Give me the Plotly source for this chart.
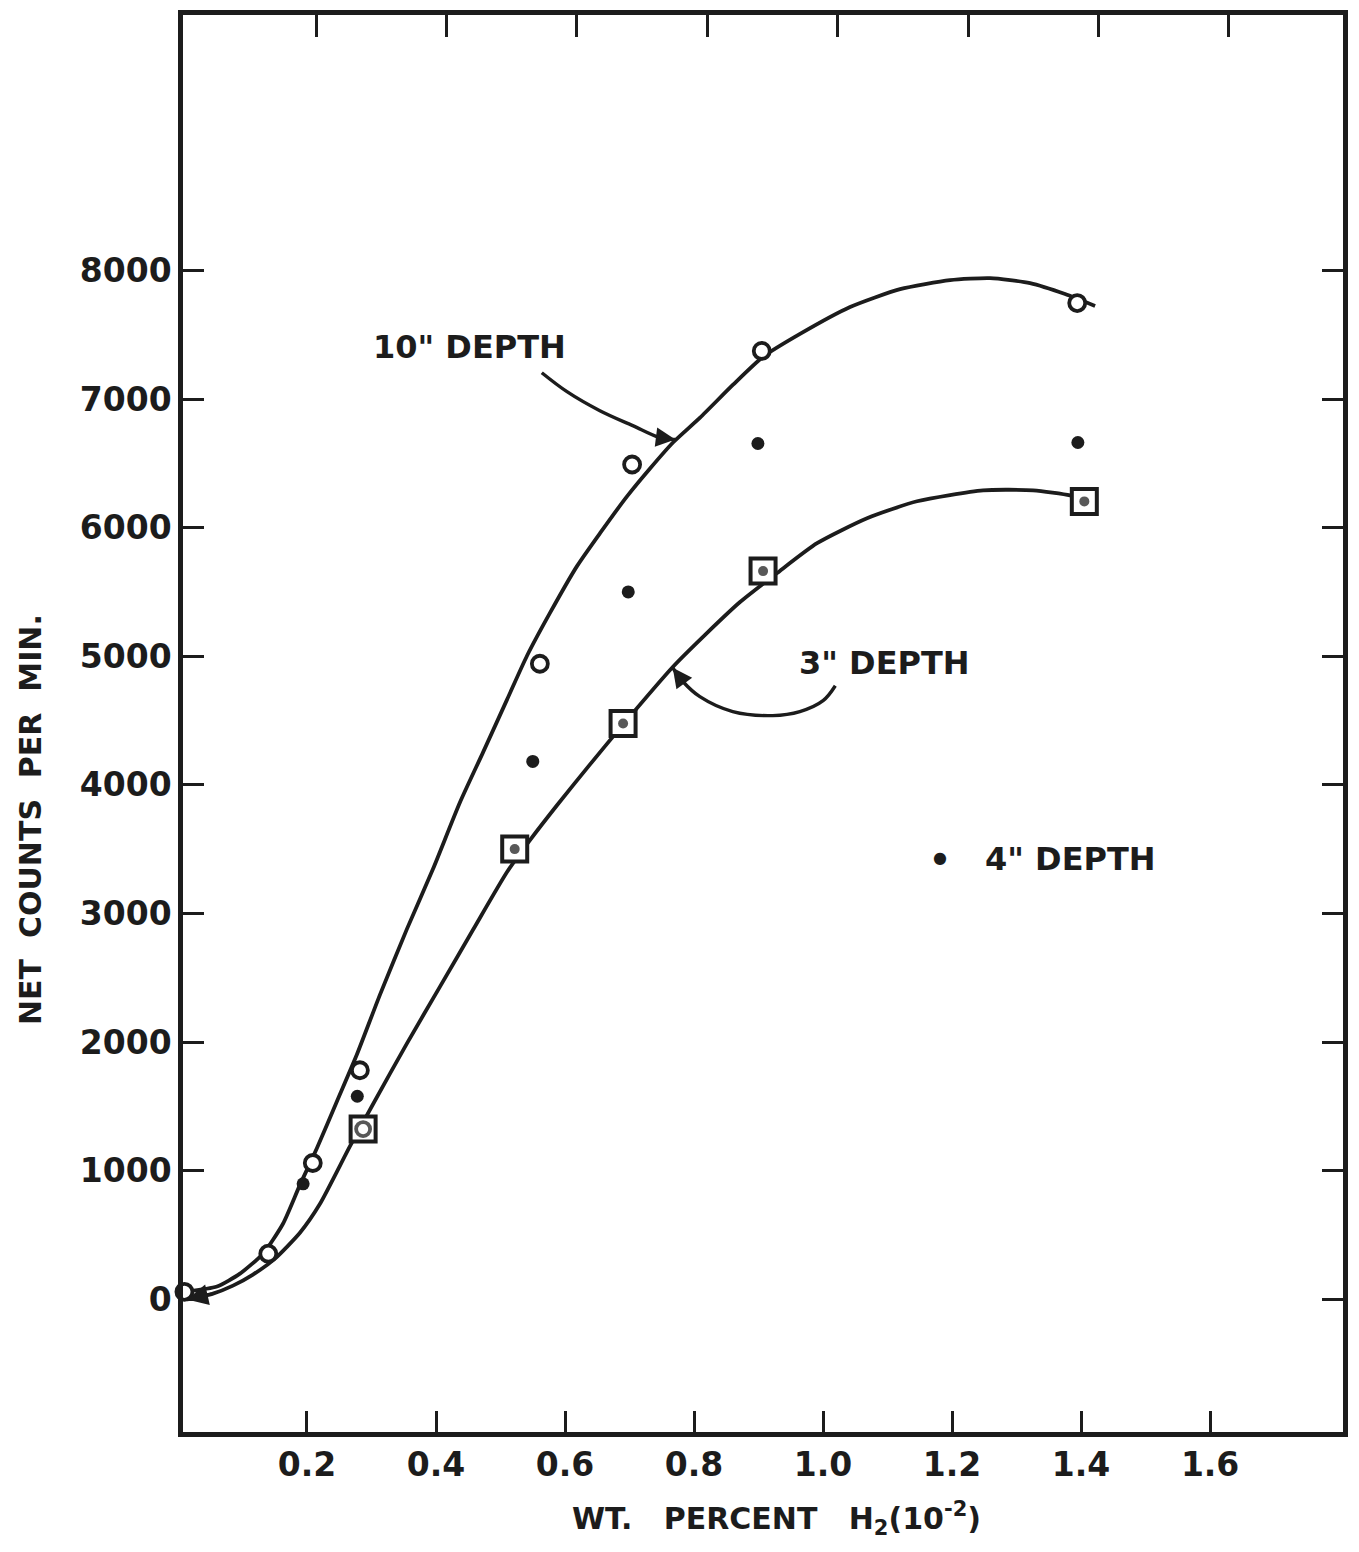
import plotly.graph_objects as go

# ---------------- data ----------------
# 10" depth: open circles
D10_X = [0.01, 0.140, 0.209, 0.282, 0.561, 0.704, 0.905, 1.394]
D10_Y = [60, 356, 1061, 1782, 4942, 6491, 7374, 7746]

# 4" depth: filled dots
D4_X = [0.194, 0.278, 0.550, 0.698, 0.899, 1.395]
D4_Y = [899, 1580, 4183, 5500, 6654, 6662]

# 3" depth: squares (with inner mark)
D3_X = [0.287, 0.522, 0.690, 0.907, 1.405]
D3_Y = [1325, 3501, 4477, 5662, 6204]
D3_INNER = ["circle-open", "circle", "circle", "circle", "circle"]

# hand-drawn fitted curves
C10_X = [0.0124, 0.0605, 0.0961, 0.1318, 0.1628, 0.1891, 0.2155, 0.2465, 0.2775,
         0.3132, 0.3550, 0.3953, 0.4372, 0.4729, 0.5101, 0.5411, 0.5767, 0.6186,
         0.6543, 0.6961, 0.7318, 0.7674, 0.8093, 0.8605, 0.9070, 0.9643, 1.0419,
         1.1194, 1.1969, 1.2589, 1.3209, 1.3752, 1.4217]
C10_Y = [62, 101, 201, 356, 589, 891, 1177, 1541, 1906,
         2370, 2881, 3346, 3865, 4253, 4663, 5004, 5337, 5701,
         5957, 6243, 6460, 6662, 6855, 7111, 7328, 7506, 7715,
         7854, 7924, 7940, 7901, 7816, 7723]

C3_X = [0.0140, 0.0543, 0.0853, 0.1163, 0.1504, 0.1891, 0.2202, 0.2667, 0.3023,
        0.3550, 0.4062, 0.4574, 0.5101, 0.5457, 0.5876, 0.6388, 0.6899, 0.7674,
        0.8171, 0.8713, 0.9287, 0.9907, 1.0682, 1.1457, 1.2481, 1.3256, 1.3829, 1.4047]
C3_Y = [0, 46, 108, 194, 318, 519, 744, 1192, 1518,
        1991, 2432, 2874, 3323, 3571, 3842, 4160, 4469, 4919,
        5167, 5422, 5647, 5879, 6073, 6205, 6290, 6290, 6251, 6212]

# curved pointer arrows for the labels (last point = arrow tip)
ARROW10_X = [0.564, 0.603, 0.654, 0.705, 0.747, 0.771]
ARROW10_Y = [7204, 7057, 6909, 6793, 6700, 6685]
ARROW3_X = [1.019, 1.000, 0.964, 0.922, 0.860, 0.809, 0.783, 0.767]
ARROW3_Y = [4771, 4655, 4570, 4539, 4570, 4686, 4802, 4911]

X_TICKS = [0.2, 0.4, 0.6, 0.8, 1.0, 1.2, 1.4, 1.6]
X_TICK_LABELS = ["0.2", "0.4", "0.6", "0.8", "1.0", "1.2", "1.4", "1.6"]
Y_TICKS = [0, 1000, 2000, 3000, 4000, 5000, 6000, 7000, 8000]
Y_TICK_LABELS = ["0", "1000", "2000", "3000", "4000", "5000", "6000", "7000", "8000"]

LABEL_10 = '10" DEPTH'
LABEL_3 = '3" DEPTH'
LABEL_4 = '4" DEPTH'
X_TITLE = "WT.\u00a0\u00a0 PERCENT\u00a0\u00a0 H<sub>2</sub>(10<sup>-2</sup>)"
Y_TITLE = "NET\u00a0 COUNTS\u00a0 PER\u00a0 MIN."

# ---------------- styling ----------------
INK = "#1c1c1c"
FONT = "DejaVu Sans"
TICK_FONT = dict(family=FONT, size=33, color=INK, weight="bold")
LW = 3.8

fig = go.Figure()

# curves
for cx, cy in ((C10_X, C10_Y), (C3_X, C3_Y)):
    fig.add_trace(go.Scatter(x=cx, y=cy, mode="lines",
                             line=dict(color=INK, width=LW, shape="spline", smoothing=0.6),
                             hoverinfo="skip"))
# label pointer shafts
for ax_, ay_ in ((ARROW10_X, ARROW10_Y), (ARROW3_X, ARROW3_Y)):
    fig.add_trace(go.Scatter(x=ax_, y=ay_, mode="lines",
                             line=dict(color=INK, width=3.4, shape="spline", smoothing=1.0),
                             hoverinfo="skip"))

# 3" squares
fig.add_trace(go.Scatter(x=D3_X, y=D3_Y, mode="markers", name='3" depth',
                         marker=dict(symbol="square", size=25, color="white",
                                     line=dict(color=INK, width=4)),
                         cliponaxis=False))
fig.add_trace(go.Scatter(x=D3_X, y=D3_Y, mode="markers", hoverinfo="skip",
                         marker=dict(symbol=D3_INNER,
                                     size=[14 if s == "circle-open" else 10 for s in D3_INNER],
                                     color="#111111",
                                     line=dict(color="#111111",
                                               width=[3.8 if s == "circle-open" else 0 for s in D3_INNER])),
                         cliponaxis=False))
# 10" open circles
fig.add_trace(go.Scatter(x=D10_X, y=D10_Y, mode="markers", name='10" depth',
                         marker=dict(symbol="circle", size=16, color="white",
                                     line=dict(color=INK, width=3.8)),
                         cliponaxis=False))
# 4" dots
fig.add_trace(go.Scatter(x=D4_X, y=D4_Y, mode="markers", name='4" depth',
                         marker=dict(symbol="circle", size=13, color=INK),
                         cliponaxis=False))
# dummy trace for the top tick axis
fig.add_trace(go.Scatter(x=[None], y=[None], xaxis="x2", showlegend=False, hoverinfo="skip"))


# arrowheads (annotation arrows from the previous point to the tip)
def head(xs, ys, size=1.3):
    fig.add_annotation(x=xs[-1], y=ys[-1], ax=xs[-2], ay=ys[-2],
                       xref="x", yref="y", axref="x", ayref="y",
                       showarrow=True, arrowhead=2, arrowsize=size,
                       arrowwidth=3, arrowcolor=INK, text="")


head(ARROW10_X, ARROW10_Y)
head(ARROW3_X, ARROW3_Y)
head(C3_X[:3][::-1], C3_Y[:3][::-1], size=1.4)

# text labels
lab_font = dict(family=FONT, size=32, color=INK, weight="bold")
fig.add_annotation(x=0.452, y=7405, text=LABEL_10, showarrow=False, font=lab_font)
fig.add_annotation(x=1.096, y=4950, text=LABEL_3, showarrow=False, font=lab_font)
fig.add_annotation(x=1.383, y=3424, text=LABEL_4, showarrow=False, font=lab_font)
fig.add_annotation(x=1.181, y=3439, text="●", showarrow=False,
                   font=dict(family=FONT, size=16, color=INK))
fig.add_annotation(xref="paper", yref="paper", x=0.512, y=-0.061,
                   xanchor="center", yanchor="middle",
                   text=X_TITLE, showarrow=False,
                   font=dict(family=FONT, size=30, color=INK, weight="bold"))
fig.add_annotation(xref="paper", yref="paper", x=-0.132, y=0.4325,
                   xanchor="center", yanchor="middle",
                   text=Y_TITLE, showarrow=False, textangle=-90,
                   font=dict(family=FONT, size=30, color=INK, weight="bold"))

fig.update_layout(
    width=1359, height=1552,
    margin=dict(l=183, r=16, t=10, b=120, pad=0),
    paper_bgcolor="white", plot_bgcolor="white",
    showlegend=False,
    xaxis=dict(range=[0.0078, 1.806], tickvals=X_TICKS, ticktext=X_TICK_LABELS,
               ticks="inside", ticklen=21, tickwidth=3.2, tickcolor=INK,
               showline=True, linewidth=4.5, linecolor=INK, mirror=True,
               showgrid=False, zeroline=False, tickfont=TICK_FONT,
               ticklabelstandoff=0),
    xaxis2=dict(range=[-0.004, 1.775], overlaying="x", side="top", anchor="y",
                tickvals=X_TICKS, ticks="inside", ticklen=22, tickwidth=3.2,
                tickcolor=INK, showticklabels=False, showline=False,
                showgrid=False, zeroline=False),
    yaxis=dict(range=[-1030, 9985], tickvals=Y_TICKS, ticktext=Y_TICK_LABELS,
               ticks="inside", ticklen=21, tickwidth=3.2, tickcolor=INK,
               showline=True, linewidth=4.5, linecolor=INK, mirror="ticks",
               showgrid=False, zeroline=False, tickfont=TICK_FONT,
               ticklabelstandoff=0),
)

fig.write_html("out.html")
